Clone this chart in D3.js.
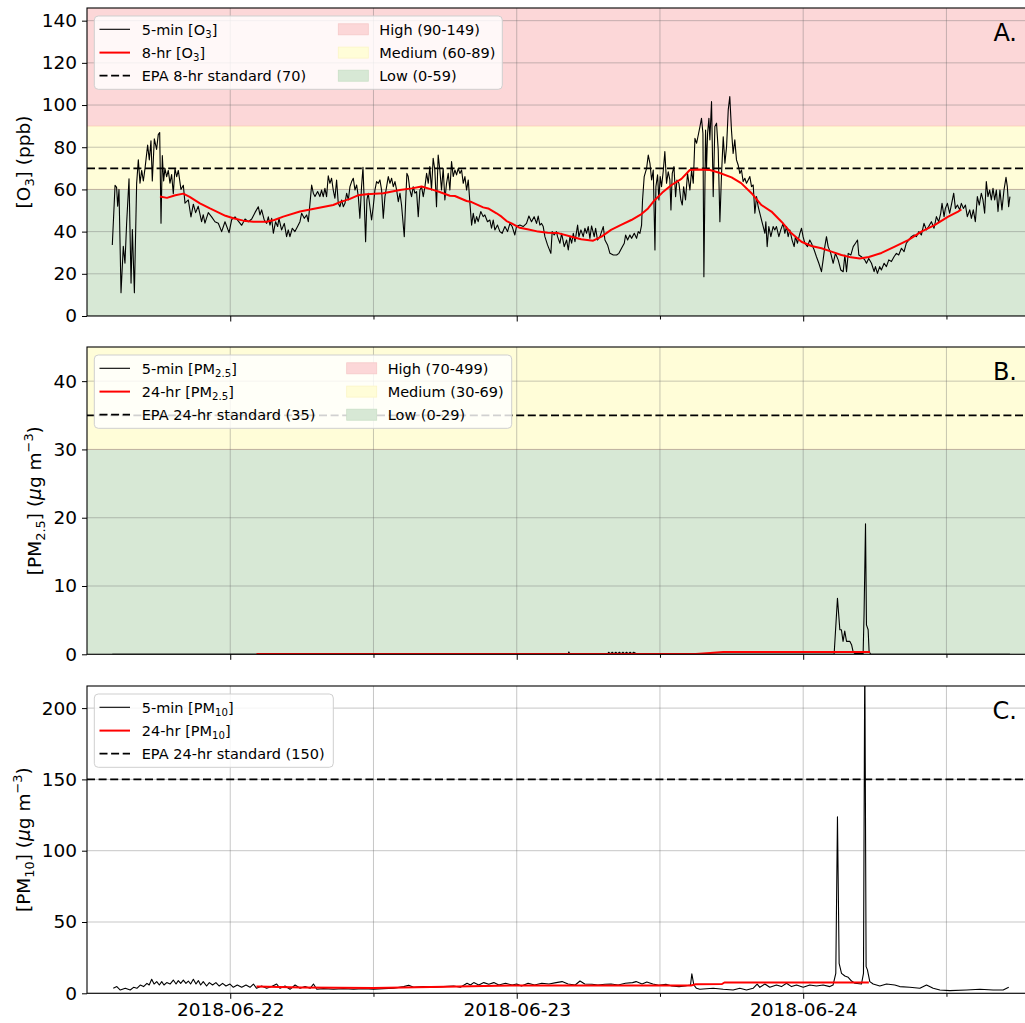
<!DOCTYPE html>
<html><head><meta charset="utf-8">
<script src="https://cdn.jsdelivr.net/npm/d3@7"></script>
<style>body{margin:0;background:#fff}svg{display:block;font-family:"DejaVu Sans",sans-serif}</style>
</head><body><svg id="c" width="1025" height="1023"></svg>
<script>
// ---------- DATA (time = hours after 2018-06-21 12:00) ----------
const startTime = new Date(2018,5,21,12,0,0);
const xEndHours = 79;
const xTickHours = [12,24,36,48,60,72];
const o3Ticks = [0,20,40,60,80,100,120,140];
const pm25Ticks = [0,10,20,30,40];
const pm10Ticks = [0,50,100,150,200];
const o3Max = 146, pm25Max = 45, pm10Max = 215.5;
const o3Standard = 70, pm25Standard = 35, pm10Standard = 150;
const o3BandLimits = [[90,149],[60,90],[0,60]];
const o3BandLabels = ["High (90-149)","Medium (60-89)","Low (0-59)"];
const pm25BandLimits = [[70,499],[30,70],[0,30]];
const pm25BandLabels = ["High (70-499)","Medium (30-69)","Low (0-29)"];

const o3_5min = [[2.12,33.7],[2.35,62],[2.48,61],[2.57,52],[2.68,60],[2.85,11],[3.04,33],[3.18,25],[3.32,44],[3.52,65],[3.69,15.6],[3.80,41],[3.97,11],[4.16,63],[4.30,74],[4.44,63],[4.58,69],[4.72,64],[4.86,70],[5.08,81],[5.22,74],[5.36,83],[5.47,64],[5.64,84],[5.83,79],[5.97,86],[6.09,87],[6.20,44],[6.31,76],[6.42,64],[6.53,70],[6.67,66],[6.81,69],[6.95,63],[7.09,67],[7.23,58],[7.37,70],[7.51,66],[7.65,69],[7.87,60],[8.07,62],[8.21,53.5],[8.49,55],[8.71,47],[8.91,53],[9.10,49],[9.32,52],[9.60,44.7],[9.74,48],[9.88,44],[10.16,49],[10.44,47],[10.72,44.7],[11.00,44],[11.28,40],[11.56,44.7],[11.90,39.5],[12.12,45.7],[12.40,47],[12.68,45],[12.96,43],[13.24,46],[13.52,44.7],[13.80,46],[14.07,49],
[14.35,51.8],[14.49,47.9],[14.63,50.3],[14.85,45.5],[15.05,43.9],[15.19,47],[15.33,43.1],[15.47,46.3],[15.61,39.2],[15.8,44.7],[15.97,42.4],[16.08,46.3],[16.3,40.8],[16.53,43.9],[16.72,37.6],[16.86,40.8],[17.0,37.6],[17.2,41.6],[17.42,40],[17.64,42.4],[17.84,44.7],[17.98,48.7],[18.2,46.3],[18.4,47.9],[18.54,44.7],[18.68,53.4],[18.82,62.1],[18.96,58.2],[19.1,56.6],[19.32,59],[19.51,56.6],[19.65,59.7],[19.79,56.6],[19.93,60.5],[20.07,56.6],[20.21,66.4],[20.35,62.9],[20.49,65.3],[20.63,59.7],[20.77,55.8],[20.91,64.5],[21.05,53.4],[21.19,51.8],[21.33,55],[21.47,51.8],[21.61,53.4],[21.75,58.2],[21.89,55],[22.03,61.3],[22.17,63.7],[22.31,65.3],[22.45,59.7],[22.59,62.1],[22.73,56.6],[22.86,46.3],[23.0,61.3],[23.12,70.5],[23.23,53.4],[23.34,35.2],[23.45,55],[23.56,58.2],[23.7,51.8],[23.84,45.5],[23.98,51.8],[24.12,59.7],[24.26,63.7],[24.4,62.9],[24.54,64.5],[24.68,59.7],[24.82,46.3],[24.96,56.6],[25.1,61.3],[25.24,66.1],[25.38,62.9],[25.52,65.3],[25.66,61.3],[25.8,63.7],[25.94,59.7],[26.08,54.2],[26.22,58.2],[26.35,52.6],[26.58,37.6],[26.69,53.4],[26.8,67.6],
[26.91,66.1],[27.05,59.7],[27.19,56.6],[27.33,61.3],[27.47,58.2],[27.61,59],[27.75,47.1],[27.89,59.7],[28.03,61.3],[28.17,56.6],[28.31,61.3],[28.45,67.6],[28.59,62.9],[28.72,70.8],[28.86,59.7],[29.0,74.8],[29.14,69.2],[29.28,51.8],[29.42,76.3],[29.56,69.2],[29.7,59.7],[29.84,70],[29.98,55],[30.12,62.9],[30.26,67.6],[30.4,59.7],[30.54,73.2],[30.68,66.1],[30.82,69.2],[30.96,66.9],[31.1,70],[31.24,67.6],[31.38,69.2],[31.52,62.9],[31.66,66.1],[31.8,59.7],[31.94,64.5],[32.08,53.4],[32.22,43.1],[32.36,48.7],[32.5,43.9],[32.64,47.1],[32.77,44.7],[32.99,49.5],[33.19,47.1],[33.33,47.9],[33.55,44.7],[33.75,45.5],[33.89,41.6],[34.03,45.5],[34.17,40.8],[34.39,43.1],[34.59,40],[34.78,39.2],[35.01,42.4],[35.23,40],[35.43,43.9],[35.62,42.4],[35.84,38.4],[35.98,42.4],[36.26,43.1],[36.54,42.4],[36.82,43.9],[37.02,47.4],[37.24,44.7],[37.46,47.1],[37.66,43.9],[37.8,47.4],[37.94,43.1],[38.08,43.9],[38.22,42.4],[38.36,37.6],[38.58,33.7],[38.86,29.7],[38.97,40],[39.14,38.4],[39.33,40],[39.42,37.6],
[39.62,34.5],[39.76,39.2],[39.98,32.9],[40.18,36],[40.32,31.3],[40.46,37.6],[40.6,34.5],[40.74,39.2],[40.88,35.2],[41.1,43.1],[41.21,37.6],[41.38,40.8],[41.57,37.6],[41.71,41.6],[41.85,39.2],[41.99,42.4],[42.13,36.8],[42.27,42.7],[42.49,37.6],[42.61,41.6],[42.77,36],[42.97,37.6],[43.25,42.4],[43.39,36],[43.61,33.7],[43.81,29.7],[44.09,28.9],[44.37,28.9],[44.56,29.7],[44.78,32.1],[45.01,34.5],[45.12,38.4],[45.29,36],[45.48,38.4],[45.62,36.8],[45.85,39.2],[46.04,36.8],[46.18,40],[46.32,39.2],[46.46,43.1],[46.54,55],[46.68,66.1],[46.88,70],[47.02,76.3],[47.16,72.4],[47.3,64.5],[47.44,69.2],[47.58,31.3],[47.66,61.3],[47.8,66.9],[47.91,55],[48.02,66.1],[48.13,61.3],[48.27,68.4],[48.41,77.9],[48.55,62.9],[48.69,68.4],[48.83,64.5],[48.92,50.3],[49.03,67.6],[49.17,70.8],[49.31,56.6],[49.42,64.5],[49.59,62.9],[49.75,55],[49.87,52.6],[49.98,61.3],[50.14,55],[50.31,67.6],[50.51,59.7],[50.65,69.2],[50.79,62.9],[50.93,84.2],[51.07,81.9],[51.21,85.8],[51.35,89.8],[51.48,93.7],[51.6,86.6],[51.68,18.6],[51.82,88.2],[51.9,70],[51.99,86.6],[52.1,93.7],
[52.18,83.5],[52.32,101.6],[52.46,56.6],[52.6,89.8],[52.74,91.4],[52.88,78.7],[53.02,44.7],[53.16,67.6],[53.3,85],[53.44,72.4],[53.58,80.3],[53.72,97.7],[53.85,104],[53.99,88.2],[54.13,77.1],[54.27,83.5],[54.41,74],[54.55,71.6],[54.69,67.6],[54.83,69.2],[54.97,63.7],[55.11,65.3],[55.25,62.9],[55.39,64.5],[55.53,66.1],[55.67,61.3],[55.81,62.1],[55.95,48.7],[56.09,56.6],[56.23,51.8],[56.37,48.7],[56.51,45.5],[56.65,42.4],[56.79,39.2],[56.87,44.7],[56.98,32.9],[57.12,42.4],[57.29,37.6],[57.48,42.4],[57.62,40.8],[57.76,42.4],[57.96,37.6],[58.12,40.8],[58.32,43.9],[58.46,39.2],[58.6,42.4],[58.74,37.6],[58.88,40.8],[59.07,36],[59.24,32.9],[59.35,37.6],[59.52,34.5],[59.72,39.2],[59.86,41.6],[59.99,37.6],[60.13,34.5],[60.36,32.9],[60.55,36],[60.69,34.5],[60.92,31.3],[61.11,28.1],[61.31,25],[61.53,21],[61.67,26.6],[61.81,32.9],[61.95,37.6],[62.09,32.9],[62.31,29.7],[62.51,25],[62.7,29.7],[62.93,26.6],[63.15,21.8],[63.35,21],[63.49,28.9],[63.63,21],[63.77,29.7],[63.99,28.9],[64.19,32.9],[64.38,34.5],[64.55,36],
[64.66,28.9],[64.88,28.1],[65.16,26.6],[65.3,25],[65.49,27.3],[65.72,25],[65.94,21],[66.05,23.4],[66.22,20.2],[66.41,23.4],[66.55,21.8],[66.78,25],[66.97,23.4],[67.17,26.6],[67.39,25.8],[67.61,28.1],[67.81,29.7],[68.0,28.9],[68.23,32.1],[68.45,30.5],[68.64,34.5],[68.84,36],[69.06,37.6],[69.29,38.4],[69.48,37.6],[69.68,40],[69.9,38.4],[70.12,43.9],[70.32,40.8],[70.51,42.4],[70.74,44.7],[70.96,41.6],[71.16,47.1],[71.35,44.7],[71.52,48.7],[71.63,53.4],[71.8,47.1],[71.91,51],[72.08,53.4],[72.27,48.7],[72.41,52.6],[72.61,58.2],[72.75,51],[72.92,52.6],[73.11,50.3],[73.25,53.4],[73.42,51],[73.59,52.6],[73.75,47.1],[73.95,50.3],[74.09,46.3],[74.25,50.3],[74.42,44.7],[74.59,56.6],[74.75,52.6],[74.92,58.2],[75.06,55],[75.2,48.7],[75.34,63.7],[75.48,56.6],[75.62,59.7],[75.76,55],[75.9,60.5],[76.04,55],[76.18,59.7],[76.32,49.5],[76.48,59.7],[76.65,50.3],[76.82,59.7],[76.99,65.7],[77.1,61.3],[77.21,51.8],[77.32,56.6]];

const o3_8hr = [[6.11,56.6],[6.7,56],[7.4,57.2],[8.07,58],[8.6,56.5],[9.46,53.4],[10.3,51],[10.86,49.5],[11.6,47.5],[12.26,46.3],[13.1,45.2],[13.93,44.7],[15.05,44.7],[15.7,45.5],[16.44,47.1],[17.84,49.5],[19.24,51.1],[20.63,52.6],[21.2,54],[22.03,55.5],[22.7,57.2],[23.42,57.7],[24.82,58.2],[26.21,59.7],[27.2,60.5],[28.03,61.4],[29.0,59.8],[29.43,59],[30.4,57],[30.82,56.9],[31.8,54.5],[32.22,54],[33.19,51.5],[33.61,51],[34.31,48.7],[34.73,47.1],[35.15,45],[35.57,43.9],[36.26,41.8],[37.0,41],[37.8,40],[38.6,39.5],[39.47,39.3],[40.6,37.6],[41.4,36.4],[42.4,35.7],[43.1,37.6],[43.9,40.8],[44.7,43.1],[45.6,45.5],[46.45,48.3],[47.0,51],[47.57,55],[48.2,58.5],[48.97,62.1],[49.8,65],[50.5,69.2],[51.2,69.5],[52.18,69.2],[52.9,68],[54.0,65.7],[54.8,63],[55.67,58.2],[56.5,52.6],[57.34,49.5],[58.18,44.7],[59.02,39.2],[59.85,35.2],[60.69,33.2],[61.53,32.1],[62.37,30.5],[63.2,28.9],[64.0,27.8],[64.74,27.3],[65.5,28],[66.56,29.9],[67.67,32.9],[68.79,36],[69.9,40],[71.0,43.1],[72.15,47.1],[72.97,49.5],[73.25,50.5]];

const pm25_5min = [[2.12,0],[40.3,0],[40.37,0.35],[40.45,0],[43.6,0],[43.7,0.3],[43.85,0.05],[44.0,0.3],[44.15,0.05],[44.3,0.3],[44.45,0.05],[44.6,0.3],[44.75,0.05],[44.9,0.3],[45.05,0.05],[45.2,0.3],[45.35,0.05],[45.5,0.3],[45.65,0.05],[45.8,0.3],[46.1,0],[62.59,0],[62.87,8.2],[63.07,3.6],[63.2,3.6],[63.34,1.9],[63.48,3.4],[63.63,1.9],[63.9,1.9],[64.05,1.4],[64.18,0.4],[64.32,0.1],[65.02,0.1],[65.1,6],[65.22,19.1],[65.3,4.3],[65.44,3.6],[65.52,0.4],[65.65,0],[77.32,0]];
const pm25_24hr = [[14.2,0.05],[51.0,0.05],[52.2,0.2],[53.3,0.35],[65.6,0.35]];

const pm10_5min = [[2.2,3.5],[2.5,4.7],[2.79,2.3],[3.21,3.5],[3.62,2.3],[3.9,4.2],[4.18,3.5],[4.46,5.8],[4.74,4.7],[5.02,7],[5.21,5.8],[5.42,9.8],[5.62,6.5],[5.84,8.2],[6.06,5.8],[6.26,8.2],[6.45,5.8],[6.68,7.5],[6.96,6.5],[7.23,9.3],[7.46,6.5],[7.65,8.9],[7.85,7],[8.07,9.3],[8.29,7],[8.49,8.6],[8.68,6.5],[8.91,9.8],[9.13,6.5],[9.33,8.9],[9.52,5.8],[9.74,8.2],[10.02,5.1],[10.25,7.5],[10.52,5.8],[10.8,7.5],[11.08,5.1],[11.36,7],[11.64,5.1],[11.98,6.5],[12.26,4.2],[12.59,5.8],[12.96,4.2],[13.32,5.8],[13.66,4.2],[13.94,6.5],[14.21,3.5],[14.63,5.1],[15.05,3.5],[15.47,4.7],[15.89,6.5],[16.17,3.5],[16.59,5.1],[17.01,2.8],[17.43,5.8],[17.85,3.5],[18.27,4.7],[18.69,3.5],[18.97,6.5],[19.25,2.8],[19.81,3.3],[20.65,2.8],[21.49,3.3],[22.33,2.8],[23.17,3.3],[24.01,2.8],[24.85,3.3],[25.69,3.5],[26.53,4.7],[26.95,5.6],[27.37,4.2],[28.21,4.7],[29.04,4.2],[29.88,4.7],[30.72,5.1],[31.28,4.2],[31.84,7],[32.12,5.8],[32.4,7.5],[32.82,5.8],[33.24,7.5],[33.66,6.3],[34.08,7.5],[34.5,5.8],[35.06,7],[35.62,5.8],[36.0,6.5],[36.4,5.1],[36.95,7],[37.5,5.8],[38.1,7],[38.7,6.5],[39.3,7.5],[39.8,8.2],[40.3,6.5],[40.9,5.8],[41.3,8.6],[41.7,6.5],[42.3,6.3],[42.8,5.8],[43.4,6.3],[43.9,6.5],[44.5,5.8],[45.1,7],[45.7,7.5],[46.0,8.2],[46.5,6.5],[46.9,7.9],[47.4,6.5],[47.9,5.6],[48.5,6.3],[49.0,5.1],[49.6,4.7],[50.1,5.1],[50.56,5.8],[50.67,13.6],[50.84,5.8],[51.06,3.5],[51.34,2.8],[52.46,3.5],[53.3,2.8],[54.13,2.3],[54.69,3.5],[55.25,2.3],[55.8,3.5],[56.14,6.5],[56.37,4.2],[56.79,6.5],[57.2,4.2],[57.76,5.8],[58.18,4.7],[58.6,7],[59.02,4.7],[59.44,5.8],[60.0,4.2],[60.55,5.8],[61.11,5.1],[61.67,5.8],[62.23,4.7],[62.5,5.8],[62.73,14],[62.87,123.8],[63.01,21],[63.21,14],[63.49,12.1],[63.77,11.2],[64.05,8.6],[64.33,7],[64.88,6.5],[65.05,14],[65.16,240],[65.27,18.7],[65.38,16.4],[65.58,8.2],[65.86,6.5],[66.42,5.1],[66.98,6.5],[67.67,5.8],[68.09,4.7],[68.93,4.2],[69.77,3.5],[70.33,5.8],[70.89,3.5],[71.45,2.3],[72.28,1.9],[73.68,2.3],[74.8,2.8],[75.91,2.3],[76.75,2.3],[77.22,4.2]];
const pm10_24hr = [[14.2,4.7],[18,4.0],[24,3.8],[30,4.6],[36,5.5],[50.6,5.5],[51.0,6.3],[53.2,6.5],[53.4,7.6],[65.5,7.5]];

// ---------- RENDERING ----------
const svg = d3.select("#c");
const FONT = '"DejaVu Sans", sans-serif';
const toDate = h => new Date(startTime.getTime() + h*3600000);
const x = d3.scaleTime().domain([startTime, toDate(xEndHours)]).range([87, 1030]);
const bandColors = ["#fcd7d8", "#fffdd8", "#d7e8d5"];
const bandEdges = ["#f6c9c9", "#fbf5c6", "#c9dfc7"];

function rich(sel, parts, base) {
  parts.forEach(p => {
    const t = sel.append("tspan").text(p.t);
    if (p.sub) t.attr("font-size", base*0.7).attr("baseline-shift", -base*0.22);
    else if (p.sup) t.attr("font-size", base*0.7).attr("baseline-shift", base*0.42);
    if (p.it) t.attr("font-style", "italic");
  });
}

function drawPanel(o) {
  const g = svg.append("g");
  const y = d3.scaleLinear().domain([0, o.ymax]).range([o.bottom, o.top]);
  const id = "clip" + o.letter;
  svg.append("clipPath").attr("id", id).append("rect")
    .attr("x", 87).attr("y", o.top).attr("width", 1030-87).attr("height", o.bottom-o.top);
  const plot = g.append("g").attr("clip-path", `url(#${id})`);
  // bands
  if (o.bands) {
    o.bands.forEach((b, i) => {
      plot.append("rect").attr("x", 87).attr("width", 1030-87)
        .attr("y", y(Math.min(b[1], o.ymax+5))).attr("height", y(b[0]) - y(Math.min(b[1], o.ymax+5)))
        .attr("fill", bandColors[i]);
    });
    o.bands.forEach(b => {
      if (b[1] < o.ymax) plot.append("line").attr("x1",87).attr("x2",1030)
        .attr("y1", y(b[1])).attr("y2", y(b[1])).attr("stroke", "rgba(250,190,150,0.45)").attr("stroke-width",1);
    });
  }
  // grid
  const gridCol = "rgba(105,105,105,0.42)";
  o.yTicks.forEach(v => plot.append("line").attr("x1",87).attr("x2",1030)
    .attr("y1", y(v)).attr("y2", y(v)).attr("stroke", gridCol).attr("stroke-width", 0.9));
  xTickHours.forEach(h => plot.append("line").attr("y1", o.top).attr("y2", o.bottom)
    .attr("x1", x(toDate(h))).attr("x2", x(toDate(h))).attr("stroke", gridCol).attr("stroke-width", 0.9));
  // standard
  plot.append("line").attr("x1", 87).attr("x2", 1030).attr("y1", y(o.std)).attr("y2", y(o.std))
    .attr("stroke", "#000").attr("stroke-width", 1.8).attr("stroke-dasharray", "8,3.6");
  const line = d3.line().x(d => x(toDate(d[0]))).y(d => y(d[1]));
  plot.append("path").datum(o.five).attr("d", line).attr("fill", "none")
    .attr("stroke", "#000").attr("stroke-width", 1.1).attr("stroke-linejoin", "round");
  plot.append("path").datum(o.avg).attr("d", line).attr("fill", "none")
    .attr("stroke", "#ff0000").attr("stroke-width", 2).attr("stroke-linejoin", "round");
  // spines
  g.append("rect").attr("x", 87).attr("y", o.top).attr("width", 1030-87).attr("height", o.bottom-o.top)
    .attr("fill", "none").attr("stroke", "#000").attr("stroke-width", 1.1);
  // y axis
  const ya = g.append("g").attr("transform", "translate(87,0)")
    .call(d3.axisLeft(y).tickValues(o.yTicks).tickSize(5).tickPadding(5));
  ya.select(".domain").remove();
  ya.selectAll("line").attr("stroke", "#000").attr("stroke-width", 1);
  ya.selectAll("text").attr("font-size", 18.5).attr("font-family", FONT).attr("fill", "#000");
  // x axis
  const xa = g.append("g").attr("transform", `translate(0,${o.bottom})`)
    .call(d3.axisBottom(x).tickValues(xTickHours.map(toDate)).tickSize(5.5).tickPadding(4)
      .tickFormat(d => (o.showX && d.getHours() === 0) ? d3.timeFormat("%Y-%m-%d")(d) : ""));
  xa.select(".domain").remove();
  xa.selectAll(".tick line").attr("stroke", "#000").attr("stroke-width", 1)
    .attr("y2", d => d.getHours() === 0 ? 5.5 : 3.5);
  xa.selectAll("text").attr("font-size", 18.5).attr("font-family", FONT).attr("fill", "#000");
  // y label
  const yl = g.append("text").attr("transform", `translate(${o.ylabelX},${(o.top+o.bottom)/2}) rotate(-90)`)
    .attr("text-anchor", "middle").attr("font-size", 18.5).attr("font-family", FONT);
  rich(yl, o.ylabel, 18.5);
  // letter
  g.append("text").attr("x", 1017).attr("y", o.top + 32.5).attr("text-anchor", "end")
    .attr("font-size", 24).attr("font-family", FONT).text(o.letter + ".");
  // legend
  const L = o.legend;
  const lg = g.append("g");
  lg.append("rect").attr("x", 94.3).attr("y", L.y).attr("width", L.w).attr("height", 73.3).attr("rx", 4)
    .attr("fill", "rgba(255,255,255,0.82)").attr("stroke", "#cfcfcf").attr("stroke-width", 1);
  const rows = [L.y + 13.3, L.y + 36.6, L.y + 59.7];
  const styles = [{c:"#000", w:1.1, d:null}, {c:"#ff0000", w:2, d:null}, {c:"#000", w:1.8, d:"8,3.6"}];
  o.lineLabels.forEach((lab, i) => {
    const ln = lg.append("line").attr("x1", 99.5).attr("x2", 130).attr("y1", rows[i]).attr("y2", rows[i])
      .attr("stroke", styles[i].c).attr("stroke-width", styles[i].w);
    if (styles[i].d) ln.attr("stroke-dasharray", styles[i].d);
    const t = lg.append("text").attr("x", 141.7).attr("y", rows[i] + 5.3)
      .attr("font-size", 14.5).attr("font-family", FONT);
    rich(t, lab, 14.5);
  });
  if (o.bandLabels) {
    o.bandLabels.forEach((lab, i) => {
      lg.append("rect").attr("x", L.px).attr("y", rows[i] - 5.5).attr("width", 30).attr("height", 11)
        .attr("fill", bandColors[i]).attr("stroke", bandEdges[i]).attr("stroke-width", 0.8);
      lg.append("text").attr("x", L.px + 41).attr("y", rows[i] + 5.3).attr("font-size", 14.5)
        .attr("font-family", FONT).text(lab);
    });
  }
}

drawPanel({top: 8, bottom: 316, ymax: o3Max, yTicks: o3Ticks, bands: o3BandLimits, bandLabels: o3BandLabels,
  std: o3Standard, five: o3_5min, avg: o3_8hr, letter: "A", showX: false, ylabelX: 29.5,
  ylabel: [{t:"[O"},{t:"3",sub:1},{t:"] (ppb)"}],
  lineLabels: [[{t:"5-min [O"},{t:"3",sub:1},{t:"]"}],[{t:"8-hr [O"},{t:"3",sub:1},{t:"]"}],[{t:"EPA 8-hr standard (70)"}]],
  legend: {y: 16, w: 408, px: 338.3}});

drawPanel({top: 347, bottom: 654.3, ymax: pm25Max, yTicks: pm25Ticks, bands: pm25BandLimits, bandLabels: pm25BandLabels,
  std: pm25Standard, five: pm25_5min, avg: pm25_24hr, letter: "B", showX: false, ylabelX: 40.5,
  ylabel: [{t:"[PM"},{t:"2.5",sub:1},{t:"] ("},{t:"μ",it:1},{t:"g m"},{t:"−3",sup:1},{t:")"}],
  lineLabels: [[{t:"5-min [PM"},{t:"2.5",sub:1},{t:"]"}],[{t:"24-hr [PM"},{t:"2.5",sub:1},{t:"]"}],[{t:"EPA 24-hr standard (35)"}]],
  legend: {y: 355, w: 417.4, px: 346.7}});

drawPanel({top: 686, bottom: 993.3, ymax: pm10Max, yTicks: pm10Ticks, bands: null, bandLabels: null,
  std: pm10Standard, five: pm10_5min, avg: pm10_24hr, letter: "C", showX: true, ylabelX: 29.5,
  ylabel: [{t:"[PM"},{t:"10",sub:1},{t:"] ("},{t:"μ",it:1},{t:"g m"},{t:"−3",sup:1},{t:")"}],
  lineLabels: [[{t:"5-min [PM"},{t:"10",sub:1},{t:"]"}],[{t:"24-hr [PM"},{t:"10",sub:1},{t:"]"}],[{t:"EPA 24-hr standard (150)"}]],
  legend: {y: 694, w: 239, px: 0}});
</script></body></html>
